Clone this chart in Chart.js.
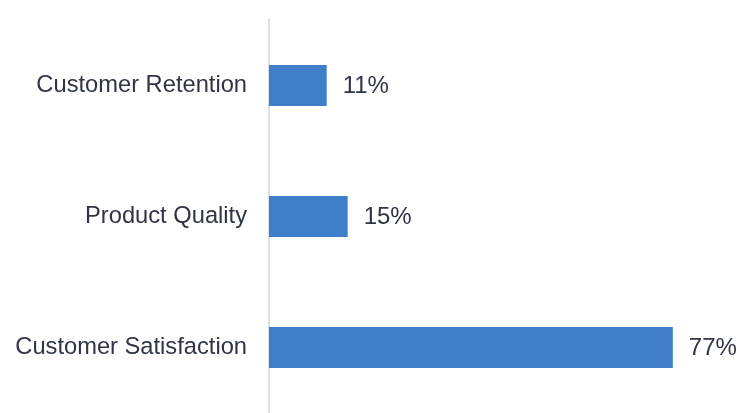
<!DOCTYPE html>
<html>
<head>
<meta charset="utf-8">
<script src="https://cdn.jsdelivr.net/npm/chart.js@4"></script>
<style>
  html, body { margin: 0; padding: 0; background: #fff; }
  canvas { display: block; }
</style>
</head>
<body>
<canvas id="chart" width="755" height="413"></canvas>
<script>
// categories, top to bottom
const categories = ['Customer Retention', 'Product Quality', 'Customer Satisfaction'];
// share in percent
const shares = [11, 15, 77];

const textColor = '#2f3545';
const fontFamily = '"Liberation Sans", Arial, Helvetica, sans-serif';

// draws "NN%" to the right of each bar
const valueLabels = {
  id: 'valueLabels',
  afterDatasetsDraw(chart) {
    const ctx = chart.ctx;
    const meta = chart.getDatasetMeta(0);
    ctx.save();
    ctx.font = '24px ' + fontFamily;
    ctx.fillStyle = textColor;
    ctx.textAlign = 'left';
    ctx.textBaseline = 'middle';
    meta.data.forEach((bar, i) => {
      ctx.fillText(shares[i] + '%', bar.x + 16, bar.y + 1);
    });
    ctx.restore();
  }
};

new Chart(document.getElementById('chart'), {
  type: 'bar',
  data: {
    labels: categories,
    datasets: [{
      data: shares,
      backgroundColor: '#3f7ec9',
      borderWidth: 0,
      categoryPercentage: 1,
      barPercentage: 0.312
    }]
  },
  options: {
    indexAxis: 'y',
    responsive: false,
    animation: false,
    layout: { padding: { top: 20, right: 14, bottom: 0, left: 0 } },
    plugins: {
      legend: { display: false },
      tooltip: { enabled: false }
    },
    scales: {
      x: {
        display: false,
        min: 0,
        max: 90
      },
      y: {
        afterFit(scale) {
          scale.width = 269;
          scale.paddingTop = 0;
          scale.paddingBottom = 0;
        },
        grid: { display: false, drawTicks: false },
        border: { display: true, color: '#dcdfea', width: 2 },
        ticks: {
          padding: 22,
          color: textColor,
          font: { family: fontFamily, size: 23.7 }
        }
      }
    }
  },
  plugins: [valueLabels]
});
</script>
</body>
</html>
